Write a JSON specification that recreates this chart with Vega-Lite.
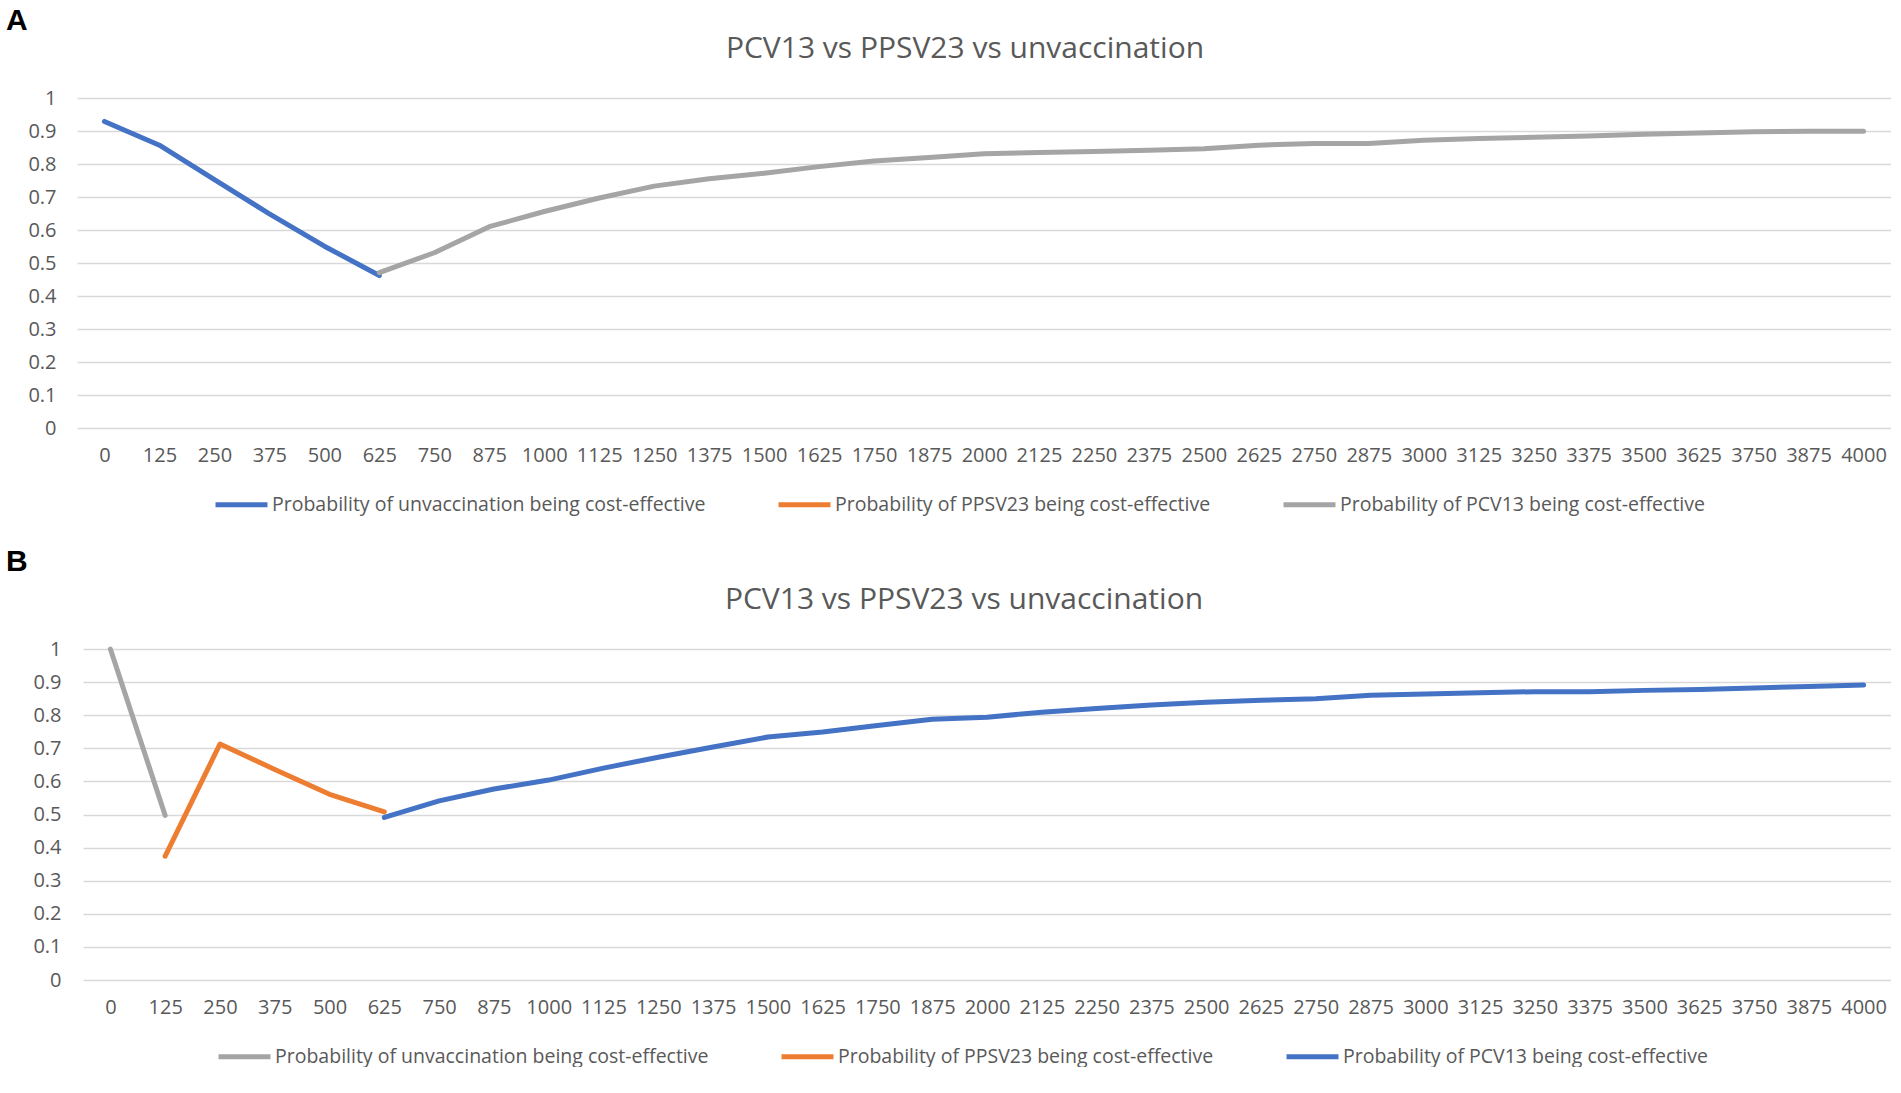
{
  "$schema": "https://vega.github.io/schema/vega-lite/v6.json",
  "background": "white",
  "padding": {"left": 6, "top": 6, "right": 0, "bottom": 0},
  "datasets": {
    "a": [
      {"wtp": 0, "series": "Probability of unvaccination being cost-effective", "prob": 0.929},
      {"wtp": 125, "series": "Probability of unvaccination being cost-effective", "prob": 0.857},
      {"wtp": 250, "series": "Probability of unvaccination being cost-effective", "prob": 0.753},
      {"wtp": 375, "series": "Probability of unvaccination being cost-effective", "prob": 0.649},
      {"wtp": 500, "series": "Probability of unvaccination being cost-effective", "prob": 0.551},
      {"wtp": 625, "series": "Probability of unvaccination being cost-effective", "prob": 0.462},
      {"wtp": 625, "series": "Probability of PCV13 being cost-effective", "prob": 0.471},
      {"wtp": 750, "series": "Probability of PCV13 being cost-effective", "prob": 0.531},
      {"wtp": 875, "series": "Probability of PCV13 being cost-effective", "prob": 0.61},
      {"wtp": 1000, "series": "Probability of PCV13 being cost-effective", "prob": 0.656},
      {"wtp": 1125, "series": "Probability of PCV13 being cost-effective", "prob": 0.697},
      {"wtp": 1250, "series": "Probability of PCV13 being cost-effective", "prob": 0.733},
      {"wtp": 1375, "series": "Probability of PCV13 being cost-effective", "prob": 0.755},
      {"wtp": 1500, "series": "Probability of PCV13 being cost-effective", "prob": 0.772},
      {"wtp": 1625, "series": "Probability of PCV13 being cost-effective", "prob": 0.792},
      {"wtp": 1750, "series": "Probability of PCV13 being cost-effective", "prob": 0.809},
      {"wtp": 1875, "series": "Probability of PCV13 being cost-effective", "prob": 0.82},
      {"wtp": 2000, "series": "Probability of PCV13 being cost-effective", "prob": 0.831},
      {"wtp": 2125, "series": "Probability of PCV13 being cost-effective", "prob": 0.835},
      {"wtp": 2250, "series": "Probability of PCV13 being cost-effective", "prob": 0.838},
      {"wtp": 2375, "series": "Probability of PCV13 being cost-effective", "prob": 0.842},
      {"wtp": 2500, "series": "Probability of PCV13 being cost-effective", "prob": 0.846},
      {"wtp": 2625, "series": "Probability of PCV13 being cost-effective", "prob": 0.857},
      {"wtp": 2750, "series": "Probability of PCV13 being cost-effective", "prob": 0.862},
      {"wtp": 2875, "series": "Probability of PCV13 being cost-effective", "prob": 0.862},
      {"wtp": 3000, "series": "Probability of PCV13 being cost-effective", "prob": 0.872},
      {"wtp": 3125, "series": "Probability of PCV13 being cost-effective", "prob": 0.877},
      {"wtp": 3250, "series": "Probability of PCV13 being cost-effective", "prob": 0.881},
      {"wtp": 3375, "series": "Probability of PCV13 being cost-effective", "prob": 0.885},
      {"wtp": 3500, "series": "Probability of PCV13 being cost-effective", "prob": 0.89},
      {"wtp": 3625, "series": "Probability of PCV13 being cost-effective", "prob": 0.894},
      {"wtp": 3750, "series": "Probability of PCV13 being cost-effective", "prob": 0.898},
      {"wtp": 3875, "series": "Probability of PCV13 being cost-effective", "prob": 0.899},
      {"wtp": 4000, "series": "Probability of PCV13 being cost-effective", "prob": 0.899}
    ],
    "b": [
      {"wtp": 0, "series": "Probability of unvaccination being cost-effective", "prob": 1.0},
      {"wtp": 125, "series": "Probability of unvaccination being cost-effective", "prob": 0.497},
      {"wtp": 125, "series": "Probability of PPSV23 being cost-effective", "prob": 0.374},
      {"wtp": 250, "series": "Probability of PPSV23 being cost-effective", "prob": 0.713},
      {"wtp": 375, "series": "Probability of PPSV23 being cost-effective", "prob": 0.636},
      {"wtp": 500, "series": "Probability of PPSV23 being cost-effective", "prob": 0.561},
      {"wtp": 625, "series": "Probability of PPSV23 being cost-effective", "prob": 0.508},
      {"wtp": 625, "series": "Probability of PCV13 being cost-effective", "prob": 0.491},
      {"wtp": 750, "series": "Probability of PCV13 being cost-effective", "prob": 0.541},
      {"wtp": 875, "series": "Probability of PCV13 being cost-effective", "prob": 0.577},
      {"wtp": 1000, "series": "Probability of PCV13 being cost-effective", "prob": 0.604},
      {"wtp": 1125, "series": "Probability of PCV13 being cost-effective", "prob": 0.64},
      {"wtp": 1250, "series": "Probability of PCV13 being cost-effective", "prob": 0.673},
      {"wtp": 1375, "series": "Probability of PCV13 being cost-effective", "prob": 0.704},
      {"wtp": 1500, "series": "Probability of PCV13 being cost-effective", "prob": 0.734},
      {"wtp": 1625, "series": "Probability of PCV13 being cost-effective", "prob": 0.749},
      {"wtp": 1750, "series": "Probability of PCV13 being cost-effective", "prob": 0.769},
      {"wtp": 1875, "series": "Probability of PCV13 being cost-effective", "prob": 0.788},
      {"wtp": 2000, "series": "Probability of PCV13 being cost-effective", "prob": 0.794},
      {"wtp": 2125, "series": "Probability of PCV13 being cost-effective", "prob": 0.809},
      {"wtp": 2250, "series": "Probability of PCV13 being cost-effective", "prob": 0.82},
      {"wtp": 2375, "series": "Probability of PCV13 being cost-effective", "prob": 0.831},
      {"wtp": 2500, "series": "Probability of PCV13 being cost-effective", "prob": 0.839},
      {"wtp": 2625, "series": "Probability of PCV13 being cost-effective", "prob": 0.845},
      {"wtp": 2750, "series": "Probability of PCV13 being cost-effective", "prob": 0.85},
      {"wtp": 2875, "series": "Probability of PCV13 being cost-effective", "prob": 0.86},
      {"wtp": 3000, "series": "Probability of PCV13 being cost-effective", "prob": 0.864},
      {"wtp": 3125, "series": "Probability of PCV13 being cost-effective", "prob": 0.868},
      {"wtp": 3250, "series": "Probability of PCV13 being cost-effective", "prob": 0.871},
      {"wtp": 3375, "series": "Probability of PCV13 being cost-effective", "prob": 0.871},
      {"wtp": 3500, "series": "Probability of PCV13 being cost-effective", "prob": 0.875},
      {"wtp": 3625, "series": "Probability of PCV13 being cost-effective", "prob": 0.878},
      {"wtp": 3750, "series": "Probability of PCV13 being cost-effective", "prob": 0.882},
      {"wtp": 3875, "series": "Probability of PCV13 being cost-effective", "prob": 0.887},
      {"wtp": 4000, "series": "Probability of PCV13 being cost-effective", "prob": 0.891}
    ]
  },
  "concat": [
    {
      "title": {"text": "A", "anchor": "start", "frame": "group", "fontSize": 30, "fontWeight": "bold", "color": "black", "font": "Liberation Sans", "dx": -71, "offset": -2},
      "vconcat": [
        {
          "data": {"name": "a"},
          "width": 1814,
          "height": 330,
          "title": {"text": "PCV13 vs PPSV23 vs unvaccination", "fontSize": 30, "fontWeight": "normal", "color": "#595959", "font": "Open Sans", "offset": 24, "dx": -19},
          "mark": {"type": "line", "strokeWidth": 5, "strokeCap": "round", "strokeJoin": "round"},
          "encoding": {
            "x": {"field": "wtp", "type": "ordinal", "sort": "ascending",
                  "scale": {"type": "point", "padding": 0.5},
                  "axis": {"title": null, "labelAngle": 0, "domain": false, "ticks": false, "grid": false, "labelPadding": 17}},
            "y": {"field": "prob", "type": "quantitative",
                  "scale": {"domain": [0, 1], "nice": false},
                  "axis": {"title": null, "values": [0, 0.1, 0.2, 0.3, 0.4, 0.5, 0.6, 0.7, 0.8, 0.9, 1], "format": ".1~f", "domain": false, "ticks": false, "labelPadding": 21}},
            "color": {"field": "series", "type": "nominal",
                      "scale": {"domain": ["Probability of unvaccination being cost-effective", "Probability of PPSV23 being cost-effective", "Probability of PCV13 being cost-effective"],
                                "range": ["#4472C4", "#ED7D31", "#A5A5A5"]},
                      "legend": {"orient": "bottom", "direction": "horizontal", "title": null, "offset": 11}}
          }
        }
      ]
    },
    {
      "title": {"text": "B", "anchor": "start", "frame": "group", "fontSize": 30, "fontWeight": "bold", "color": "black", "font": "Liberation Sans", "dx": -71, "offset": 8},
      "vconcat": [
        {
          "data": {"name": "b"},
          "width": 1814,
          "height": 331,
          "title": {"text": "PCV13 vs PPSV23 vs unvaccination", "fontSize": 30, "fontWeight": "normal", "color": "#595959", "font": "Open Sans", "offset": 24, "dx": -20},
          "mark": {"type": "line", "strokeWidth": 5, "strokeCap": "round", "strokeJoin": "round"},
          "encoding": {
            "x": {"field": "wtp", "type": "ordinal", "sort": "ascending",
                  "scale": {"type": "point", "padding": 0.5, "range": [6, 1814]},
                  "axis": {"title": null, "labelAngle": 0, "domain": false, "ticks": false, "grid": false, "labelPadding": 17}},
            "y": {"field": "prob", "type": "quantitative",
                  "scale": {"domain": [0, 1], "nice": false},
                  "axis": {"title": null, "values": [0, 0.1, 0.2, 0.3, 0.4, 0.5, 0.6, 0.7, 0.8, 0.9, 1], "format": ".1~f", "domain": false, "ticks": false, "labelPadding": 16}},
            "color": {"field": "series", "type": "nominal",
                      "scale": {"domain": ["Probability of unvaccination being cost-effective", "Probability of PPSV23 being cost-effective", "Probability of PCV13 being cost-effective"],
                                "range": ["#A5A5A5", "#ED7D31", "#4472C4"]},
                      "legend": {"orient": "bottom", "direction": "horizontal", "title": null, "offset": 11}}
          }
        }
      ]
    }
  ],
  "columns": 1,
  "spacing": 32,
  "resolve": {"scale": {"color": "independent", "x": "independent", "y": "independent"}, "legend": {"color": "independent"}},
  "config": {
    "font": "Open Sans",
    "view": {"stroke": null},
    "axis": {"labelFont": "Open Sans", "labelFontSize": 20, "labelColor": "#595959", "gridColor": "#D9D9D9", "gridWidth": 1.5},
    "legend": {"labelFont": "Open Sans", "labelFontSize": 19.5, "labelColor": "#595959", "symbolType": "stroke", "symbolSize": 2700, "symbolStrokeWidth": 5, "labelOffset": 2, "columnPadding": 62, "labelLimit": 600, "layout": {"bottom": {"anchor": "middle"}}}
  }
}
